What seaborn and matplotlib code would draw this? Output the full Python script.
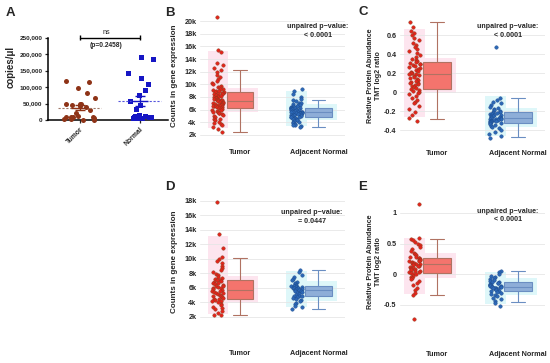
import numpy as np
import pandas as pd
import matplotlib
matplotlib.use('Agg')
import matplotlib.pyplot as plt
import seaborn as sns
from matplotlib.patches import Rectangle

# ---- panel A: ddPCR copies/ul ----
a_tumor = [119000, 116000, 98000, 83000, 66000, 48000, 48000, 50000, 45000, 42000,
           38000, 30000, 22000, 10000, 10000, 8000, 9000, 11000, 7000, 2000, 1000,
           1500, 3000]
a_normal = [192000, 185000, 142000, 128000, 110000, 92000, 75000, 58000, 45000,
            32000, 15000, 12000, 10000, 9000, 8000, 7000, 6000, 5000, 5000, 12000]
a_categories = ['Tumor', 'Normal']
a_yticks = [0, 50000, 100000, 150000, 200000, 250000]
a_yticklabels = ['0', '50,000', '100,000', '150,000', '200,000', '250,000']

# ---- panel B: gene expression counts (k) ----
b_tumor = [20.7, 15.4, 15.1, 13.3, 13.0, 12.6, 12.2, 11.9, 11.5, 11.2, 10.8, 10.5, 10.2,
           10.0, 9.8, 9.6, 9.5, 9.3, 9.2, 9.1, 9.0, 8.9, 8.8, 8.8,
           8.7, 8.6, 8.5, 8.5, 8.4, 8.3, 8.2, 8.1, 8.0, 8.0, 7.9, 7.9, 7.8, 7.7, 7.7, 7.6,
           7.6, 7.5, 7.5, 7.4, 7.3, 7.2, 7.2, 7.1, 7.0, 7.0, 6.9, 6.9, 6.8, 6.8, 6.7, 6.6,
           6.6, 6.5, 6.5, 6.4, 6.4, 6.3, 6.2, 6.1, 6.0, 5.9, 5.8, 5.7, 5.6, 5.5, 5.4, 5.3,
           5.1, 5.0, 4.8, 4.6, 4.5, 4.3, 4.1, 3.9, 3.7, 3.5, 3.2, 2.9, 2.5]
b_normal = [9.2, 9.0, 8.4, 8.0, 7.7, 7.5, 7.3, 7.1, 7.0, 6.9, 6.8, 6.7, 6.6, 6.5, 6.4,
            6.4, 6.3, 6.3, 6.2, 6.2, 6.1, 6.1, 6.0, 6.0, 5.9, 5.9, 5.8, 5.8, 5.7, 5.7,
            5.7, 5.6, 5.6, 5.5, 5.5, 5.4, 5.4, 5.3, 5.3, 5.2, 5.2, 5.1, 5.1, 5.0, 5.0,
            4.9, 4.9, 4.8, 4.7, 4.6, 4.5, 4.4, 4.3, 4.2, 4.1, 4.0, 3.9, 3.8, 3.6, 3.5,
            3.4, 3.3]
# whislo, q1, median, q3, whishi
b_tumor_box = [2.5, 6.2, 7.4, 8.8, 12.2]
b_normal_box = [3.3, 4.9, 5.6, 6.3, 7.5]
b_yticks = [2, 4, 6, 8, 10, 12, 14, 16, 18, 20]
b_yticklabels = ['2k', '4k', '6k', '8k', '10k', '12k', '14k', '16k', '18k', '20k']

# ---- panel C: protein abundance ----
c_tumor = [0.74, 0.68, 0.64, 0.62, 0.60, 0.57, 0.55, 0.52, 0.50, 0.47, 0.45, 0.43, 0.41,
           0.39, 0.37, 0.35, 0.34, 0.33, 0.32, 0.31, 0.30, 0.29, 0.28, 0.27, 0.26, 0.25,
           0.24, 0.23, 0.22, 0.21, 0.20, 0.20, 0.19, 0.19, 0.18, 0.17, 0.16, 0.15, 0.14,
           0.13, 0.12, 0.11, 0.10, 0.09, 0.08, 0.07, 0.06, 0.05, 0.04, 0.03, 0.02, 0.01,
           0.0, -0.01, -0.02, -0.04, -0.06, -0.08, -0.10, -0.12, -0.15, -0.18, -0.21,
           -0.24, -0.27, -0.30]
c_normal = [0.47, -0.06, -0.08, -0.10, -0.12, -0.14, -0.16, -0.17, -0.18, -0.19, -0.20,
            -0.21, -0.21, -0.22, -0.22, -0.23, -0.23, -0.24, -0.24, -0.25, -0.25, -0.26,
            -0.26, -0.27, -0.27, -0.27, -0.28, -0.28, -0.28, -0.29, -0.29, -0.30, -0.30,
            -0.31, -0.31, -0.32, -0.32, -0.33, -0.33, -0.34, -0.35, -0.36, -0.37, -0.38,
            -0.40, -0.42, -0.44, -0.46, -0.48]
c_tumor_box = [-0.28, 0.03, 0.19, 0.32, 0.74]
c_normal_box = [-0.47, -0.33, -0.27, -0.21, -0.06]
c_yticks = [-0.4, -0.2, 0, 0.2, 0.4, 0.6]
c_yticklabels = ['-0.4', '-0.2', '0', '0.2', '0.4', '0.6']

# ---- panel D: gene expression counts (k) ----
d_tumor = [17.8, 13.4, 11.5, 10.3, 10.0, 9.7, 9.4, 9.0, 8.7, 8.4, 8.1, 7.9, 7.7, 7.5, 7.3,
           7.2, 7.1, 7.0, 6.9, 6.8, 6.7, 6.6, 6.5, 6.4, 6.3, 6.2, 6.1, 6.0, 5.9, 5.8, 5.7,
           5.6, 5.5, 5.4, 5.3, 5.2, 5.1, 5.0, 4.9, 4.8, 4.7, 4.6, 4.5, 4.4, 4.3, 4.2, 4.1,
           4.0, 3.8, 3.6, 3.4, 3.2, 3.0, 2.8, 2.5, 2.3, 2.2]
d_normal = [8.5, 8.2, 7.8, 7.5, 7.2, 7.0, 6.8, 6.6, 6.5, 6.4, 6.3, 6.3, 6.2, 6.2, 6.1, 6.1,
            6.0, 6.0, 5.9, 5.9, 5.8, 5.8, 5.7, 5.7, 5.6, 5.5, 5.4, 5.3, 5.2, 5.1, 5.0, 4.9,
            4.8, 4.8, 4.7, 4.6, 4.5, 4.3, 4.1, 3.9, 3.7, 3.5, 3.3, 3.1]
d_tumor_box = [2.2, 4.5, 5.7, 7.06, 10.1]
d_normal_box = [3.1, 4.8, 5.75, 6.3, 8.5]
d_yticks = [2, 4, 6, 8, 10, 12, 14, 16, 18]
d_yticklabels = ['2k', '4k', '6k', '8k', '10k', '12k', '14k', '16k', '18k']

# ---- panel E: protein abundance ----
e_tumor = [1.15, 0.60, 0.58, 0.56, 0.53, 0.50, 0.47, 0.44, 0.41, 0.38, 0.35, 0.33, 0.31,
           0.29, 0.28, 0.27, 0.26, 0.25, 0.24, 0.23, 0.22, 0.21, 0.20, 0.19, 0.18, 0.17,
           0.16, 0.16, 0.15, 0.14, 0.13, 0.12, 0.11, 0.10, 0.09, 0.08, 0.07, 0.06, 0.05,
           0.04, 0.03, 0.02, 0.01, 0.0, -0.02, -0.04, -0.06, -0.08, -0.11, -0.14, -0.18,
           -0.22, -0.26, -0.30, -0.33, -0.73]
e_normal = [0.05, 0.03, 0.0, -0.02, -0.04, -0.06, -0.08, -0.10, -0.11, -0.12, -0.13,
            -0.14, -0.15, -0.16, -0.17, -0.17, -0.18, -0.19, -0.19, -0.20, -0.20, -0.21,
            -0.21, -0.22, -0.22, -0.23, -0.23, -0.24, -0.25, -0.26, -0.27, -0.28, -0.29,
            -0.30, -0.32, -0.34, -0.36, -0.38, -0.41, -0.44, -0.47, -0.52]
e_tumor_box = [-0.33, 0.016, 0.16, 0.27, 0.57]
e_normal_box = [-0.46, -0.27, -0.21, -0.13, 0.05]
e_yticks = [-0.5, 0, 0.5, 1]
e_yticklabels = ['-0.5', '0', '0.5', '1']

group_labels = ['Tumor', 'Adjacent Normal']

# colours
TUMOR_PT, TUMOR_EDGE = '#e3241b', '#8c3b1e'
NORMAL_PT, NORMAL_EDGE = '#2c68b6', '#1c4a8c'
TUMOR_BOX, TUMOR_LINE = '#f4746d', '#b07262'
NORMAL_BOX, NORMAL_LINE = '#8eaed8', '#6a8ec2'
TUMOR_SHADE, NORMAL_SHADE = '#fde5ef', '#def7f9'

sns.set_style('white')
plt.rcParams['font.family'] = ['Liberation Sans', 'DejaVu Sans']
plt.rcParams['font.weight'] = 'bold'

W, H = 550, 363
fig = plt.figure(figsize=(5.5, 3.63), dpi=100)
np.random.seed(7)


def axes_px(left, top, right, bottom):
    return fig.add_axes([left / W, 1 - bottom / H, (right - left) / W, (bottom - top) / H])


def fig_text(x, y, s, **kw):
    fig.text(x / W, 1 - y / H, s, **kw)


def expression_panel(ax, tumor, normal, tumor_box, normal_box, ylim, yticks, yticklabels,
                     pvalue, txt_xy, xlim):
    strip_pos = [-0.28, 0.72]
    box_pos = [0.0, 1.0]
    span = ylim[1] - ylim[0]
    groups = [(tumor, tumor_box, TUMOR_PT, TUMOR_EDGE, TUMOR_BOX, TUMOR_LINE, TUMOR_SHADE),
              (normal, normal_box, NORMAL_PT, NORMAL_EDGE, NORMAL_BOX, NORMAL_LINE, NORMAL_SHADE)]
    for i, (vals, box, pt, edge, bfill, bline, shade) in enumerate(groups):
        lo, hi = np.percentile(vals, [2, 98])
        ax.add_patch(Rectangle((strip_pos[i] - 0.13, lo), 0.26, hi - lo,
                               facecolor=shade, lw=0, zorder=0))
        ax.add_patch(Rectangle((box_pos[i] - 0.23, box[1] - 0.03 * span), 0.46,
                               box[3] - box[1] + 0.06 * span,
                               facecolor=shade, lw=0, zorder=0))
        sns.stripplot(x=np.full(len(vals), strip_pos[i]), y=vals, native_scale=True,
                      jitter=0.075, size=2.5, color=pt, edgecolor=edge, linewidth=0.3,
                      ax=ax, zorder=3)
        stats = dict(whislo=box[0], q1=box[1], med=box[2], q3=box[3], whishi=box[4], fliers=[])
        ax.bxp([stats], positions=[box_pos[i]], widths=0.34, patch_artist=True,
               showfliers=False, manage_ticks=False, capwidths=0.17,
               boxprops=dict(facecolor=bfill, edgecolor=bline, lw=0.8),
               whiskerprops=dict(color=bline, lw=0.8),
               capprops=dict(color=bline, lw=0.8),
               medianprops=dict(color=bline, lw=0.8))
    ax.set_xlim(*xlim)
    ax.set_ylim(*ylim)
    ax.set_xticks(box_pos)
    ax.set_xticklabels(group_labels, fontsize=5.2, fontweight='bold')
    ax.set_yticks(yticks)
    ax.set_yticklabels(yticklabels, fontsize=5.2, fontweight='bold')
    ax.tick_params(axis='x', length=0, pad=7)
    ax.tick_params(axis='y', length=0, pad=2.5)
    ax.set_xlabel('')
    ax.set_ylabel('')
    ax.yaxis.grid(True, color='#e6e6e6', lw=0.6)
    ax.set_axisbelow(True)
    for sp in ax.spines.values():
        sp.set_visible(False)
    ax.text(txt_xy[0], txt_xy[1], 'unpaired p\u2212value:\n' + pvalue, transform=ax.transAxes,
            ha='center', va='center', fontsize=5.1, fontweight='bold', linespacing=1.35)


# ---------------- panel A ----------------
axA = axes_px(48, 37.5, 168, 120)
a_sets = [(a_tumor, 'o', '#8e3317', '#a07a6a'), (a_normal, 's', '#1616c4', '#5555dd')]
for i, (vals, mk, col, dash) in enumerate(a_sets):
    sns.stripplot(x=np.full(len(vals), float(i)), y=vals, native_scale=True, jitter=0.27,
                  marker=mk, size=3.6, color=col, linewidth=0, ax=axA, clip_on=False, zorder=3)
    m = np.mean(vals)
    se = np.std(vals, ddof=1) / np.sqrt(len(vals))
    axA.hlines(m, i - 0.36, i + 0.36, colors=dash, linestyles=(0, (2, 1.5)), lw=0.8, zorder=4)
    axA.errorbar(i, m, yerr=se, color=col, capsize=3.5, lw=1.0, capthick=1.0, zorder=5)
    axA.hlines(m, i - 0.14, i + 0.14, colors=col, lw=1.0, zorder=5)
axA.set_xlim(-0.53, 1.47)
axA.set_ylim(0, 250000)
axA.set_yticks(a_yticks)
axA.set_yticklabels(a_yticklabels, fontsize=4.6, fontweight='bold')
axA.set_xticks([0, 1])
axA.set_xticklabels(a_categories, fontsize=4.9, fontweight='bold', rotation=45,
                    ha='right', rotation_mode='anchor')
axA.tick_params(axis='y', length=2.5, width=0.9, pad=1.5, left=True)
axA.tick_params(axis='x', length=2, width=0.9, pad=2, bottom=True)
axA.set_xlabel('')
axA.set_ylabel('')
for sp in ['top', 'right']:
    axA.spines[sp].set_visible(False)
for sp in ['left', 'bottom']:
    axA.spines[sp].set_linewidth(1.1)
    axA.spines[sp].set_color('black')
# significance bracket
axA.plot([0, 1], [250000, 250000], color='black', lw=1.0, clip_on=False)
axA.vlines([0, 1], 241000, 259000, color='black', lw=1.0, clip_on=False)
axA.text(0.445, 264000, 'ns', ha='center', va='center', fontsize=5.2, fontweight='normal')
axA.text(0.445, 225000, '(p=0.2458)', ha='center', va='center', fontsize=4.8,
         fontweight='bold')
fig_text(11, 67, 'copies/\u03bcl', rotation=90, ha='center', va='center', fontsize=7,
         fontweight='bold')

# ---------------- panels B-E ----------------
axB = axes_px(200, 14.7, 345, 139.4)
expression_panel(axB, b_tumor, b_normal, b_tumor_box, b_normal_box, (1.3, 21.0),
                 b_yticks, b_yticklabels, '< 0.0001', (0.814, 0.869), (-0.51, 1.338))
axC = axes_px(400, 16, 545, 140)
expression_panel(axC, c_tumor, c_normal, c_tumor_box, c_normal_box, (-0.505, 0.8),
                 c_yticks, c_yticklabels, '< 0.0001', (0.745, 0.879), (-0.457, 1.333))
axD = axes_px(200, 193.5, 345, 340.6)
expression_panel(axD, d_tumor, d_normal, d_tumor_box, d_normal_box, (-1.3, 19.0),
                 d_yticks, d_yticklabels, '= 0.0447', (0.77, 0.84), (-0.51, 1.338))
axE = axes_px(400, 194.6, 545, 341.1)
expression_panel(axE, e_tumor, e_normal, e_tumor_box, e_normal_box, (-1.09, 1.3),
                 e_yticks, e_yticklabels, '< 0.0001', (0.745, 0.857), (-0.457, 1.333))

fig_text(175, 76, 'Counts in gene expression', rotation=90, ha='center', va='center',
         fontsize=5.8, fontweight='bold')
fig_text(175, 262, 'Counts in gene expression', rotation=90, ha='center', va='center',
         fontsize=5.8, fontweight='bold')
for y0 in (76, 262):
    fig_text(375, y0, 'Relative Protein Abundance\nTMT log2 ratio', rotation=90,
             ha='center', va='center', fontsize=5.1, fontweight='bold', linespacing=1.2,
             multialignment='center')

for letter, x, y in [('A', 10, 13), ('B', 170, 13), ('C', 363, 12), ('D', 170, 187),
                     ('E', 363, 187)]:
    fig_text(x, y, letter, ha='center', va='center', fontsize=9.5, fontweight='bold')

fig.savefig('out.png', dpi=100)
